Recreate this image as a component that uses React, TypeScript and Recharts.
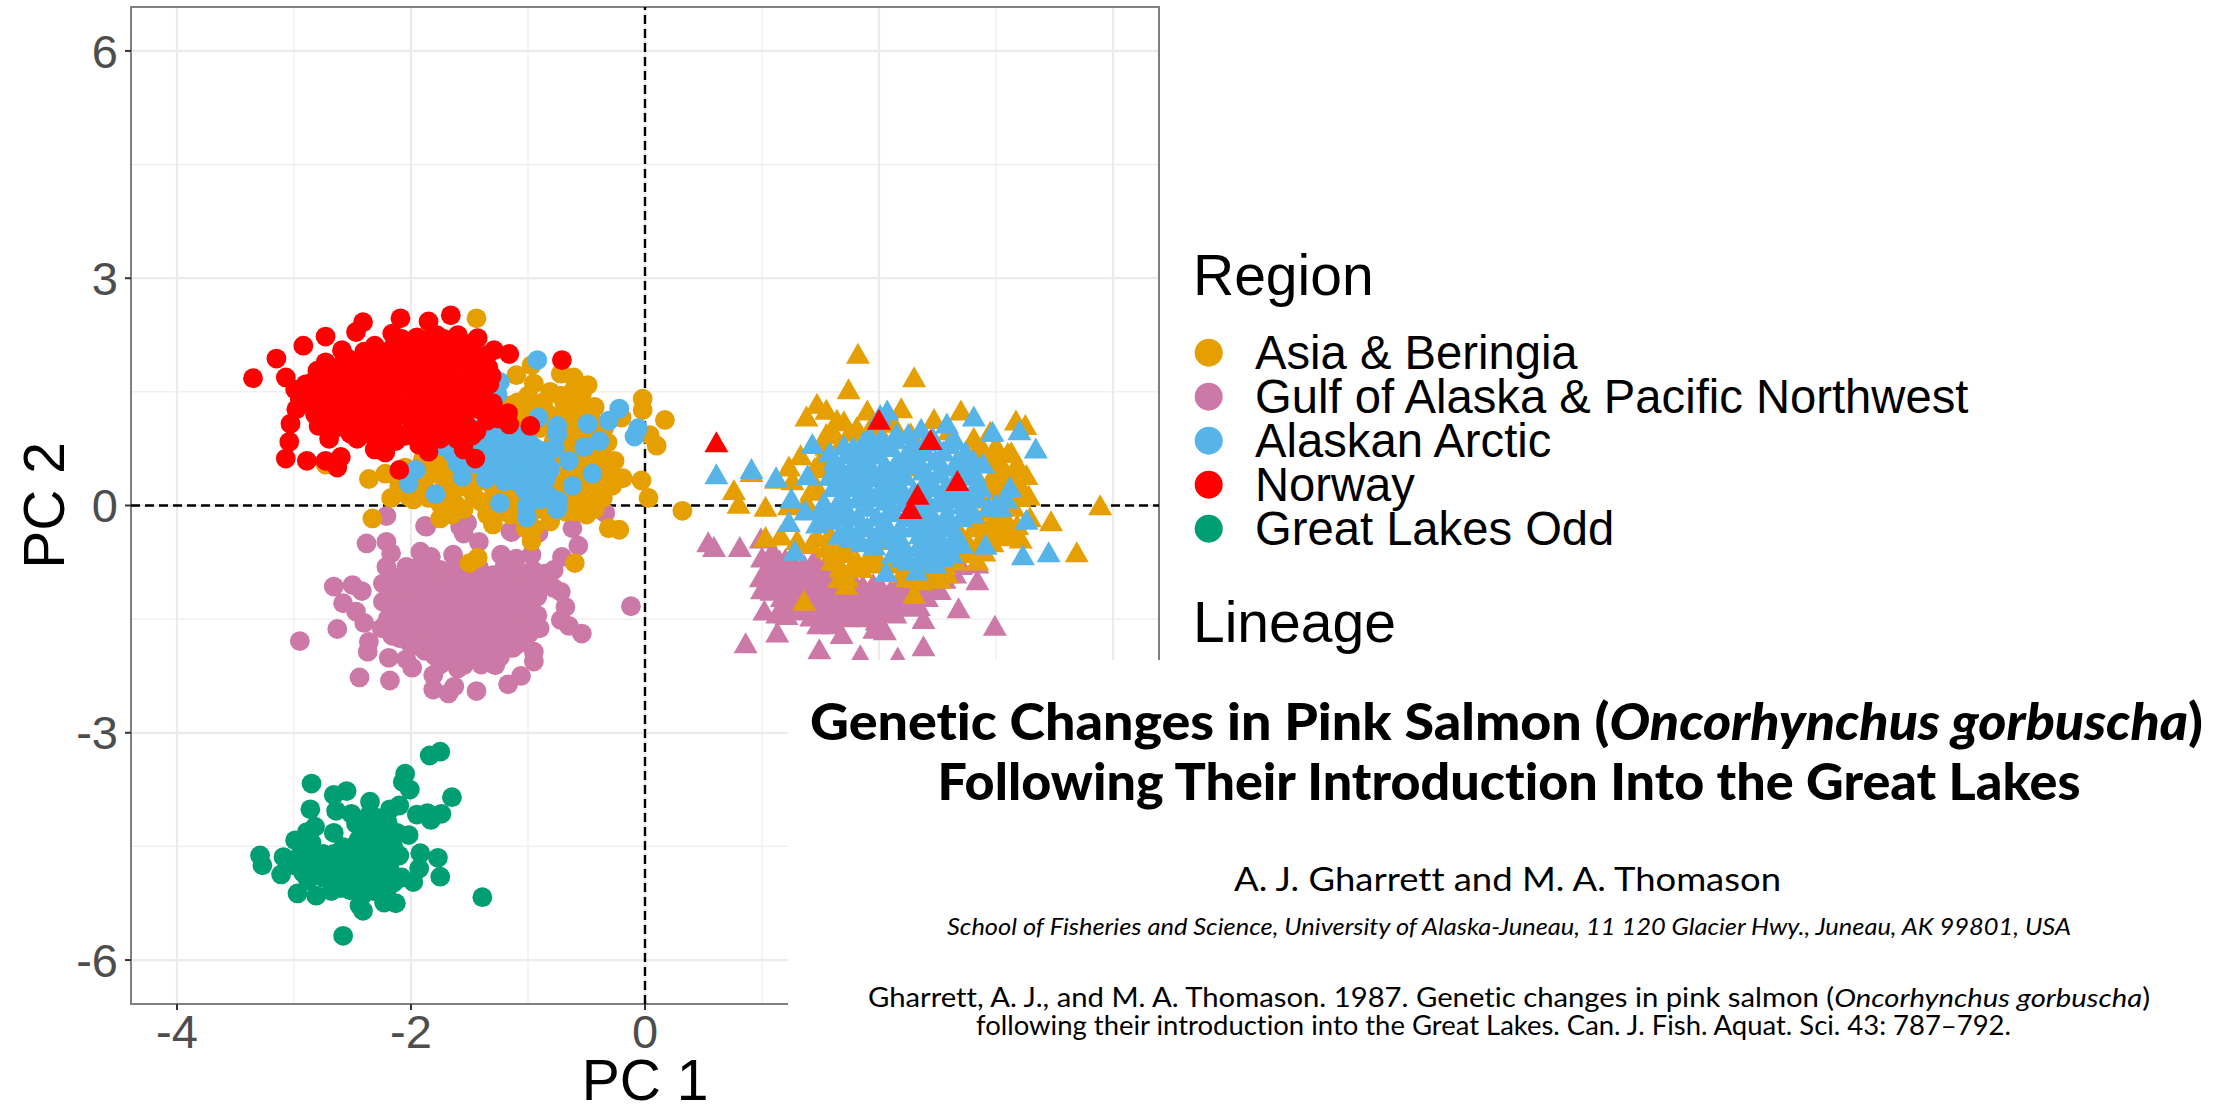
import React from "react";
import {
  ScatterChart,
  Scatter,
  XAxis,
  YAxis,
  CartesianGrid,
  ReferenceLine,
  ReferenceArea,
} from "recharts";

type P = [number, number];

const COLORS = {
  asia: "#E69F00",
  gulf: "#CC79A7",
  arctic: "#56B4E9",
  norway: "#FF0000",
  lakes: "#009E73",
};

const regionNames = [
  "Asia & Beringia",
  "Gulf of Alaska & Pacific Northwest",
  "Alaskan Arctic",
  "Norway",
  "Great Lakes Odd",
];
const regionColors = [COLORS.asia, COLORS.gulf, COLORS.arctic, COLORS.norway, COLORS.lakes];

const xTicks = [-4, -2, 0, 2, 4];
const yTicks = [-6, -3, 0, 3, 6];
const xMinor = [-3, -1, 1, 3];
const yMinor = [-4.5, -1.5, 1.5, 4.5];
const xLimit = 4.393;
const yLimit = 6.58;

const gulfCircles: P[] = [
  [-2.95,-1.79],[-2.63,-1.63],[-2.66,-1.07],[-2.5,-1.05],[-2.42,-1.13],[-2.58,-1.29],[-2.47,-1.4],[-2.4,-1.55],
  [-2.36,-1.8],[-2.37,-1.93],[-2.25,-1.62],[-2.44,-2.27],[-2.18,-2.31],[-2.19,-2.01],[-2.04,-2.03],[-1.99,-2.14],
  [-1.81,-2.24],[-1.81,-2.43],[-1.68,-2.48],[-1.63,-2.39],[-1.44,-2.45],[-1.17,-2.36],[-1.06,-2.25],[-0.95,-2.06],
  [-0.95,-1.93],[-0.99,-1.69],[-0.54,-1.69],[-0.65,-1.59],[-0.72,-1.51],[-0.68,-1.34],[-0.72,-1.14],[-0.78,-1.09],
  [-0.78,-0.85],[-0.71,-0.68],[-0.57,-0.53],[-0.62,-0.3],[-0.12,-1.33],[-2.38,-0.5],[-2.21,-0.48],[-2.17,-0.63],
  [-2.21,-0.81],[-2.24,-1.03],[-2.24,-1.27],[-1.87,-0.28],[-1.55,-0.37],[-1.42,-0.48],[-1.58,-0.28],[-1.14,-0.35],
  [-1.92,-0.61],[-1.83,-0.68],[-1.64,-0.65],[-1.23,-0.65],[-1.1,-0.7],[-0.97,-0.65],[-2.04,-0.81],[-0.95,-1.03],
  [-1.55,-2.11],[-1.45,-2.02],[-1.28,-2.11],[-1.24,-2.0],[-1.08,-1.82],[-2.21,-0.14],[-1.88,-0.27],[-1.52,-0.23],
  [-1.15,-0.34],[-0.34,-0.1],[-0.91,-0.36],
  [-2.15,-1.15],[-2.12,-1.42],[-2.1,-0.95],[-2.08,-1.62],[-2.05,-1.22],[-2.02,-1.8],[-2.0,-1.02],[-1.98,-1.45],
  [-1.95,-0.82],[-1.92,-1.7],[-1.9,-1.25],[-1.88,-1.92],[-1.85,-0.98],[-1.82,-1.5],[-1.8,-1.12],[-1.78,-1.78],
  [-1.75,-0.85],[-1.72,-1.32],[-1.7,-2.02],[-1.68,-1.02],[-1.65,-1.62],[-1.62,-1.2],[-1.6,-1.88],[-1.58,-0.88],
  [-1.55,-1.45],[-1.52,-1.05],[-1.5,-1.72],[-1.48,-1.25],[-1.45,-1.9],[-1.42,-0.82],[-1.4,-1.52],[-1.38,-1.08],
  [-1.35,-1.78],[-1.32,-1.3],[-1.3,-0.92],[-1.28,-1.6],[-1.25,-1.15],[-1.22,-1.9],[-1.2,-0.8],[-1.18,-1.42],
  [-1.15,-1.02],[-1.12,-1.68],[-1.1,-1.22],[-1.05,-0.9],[-1.03,-1.5],[-1.0,-1.12],[-0.98,-1.3],[-0.96,-0.85],
  [-0.92,-1.45],[-0.9,-1.62],[-0.88,-1.02],[-2.2,-1.5],[-2.16,-1.72],[-1.96,-1.12],[-1.76,-1.55],[-1.56,-1.65],
  [-1.36,-1.4],[-1.16,-1.55],[-1.66,-1.42],[-1.86,-1.62],[-1.46,-1.12],
];
const gulfCirclesCore: P[] = [
  [-2.14,-1.05],[-2.13,-1.25],[-2.12,-1.56],[-2.05,-0.9],[-2.07,-1.1],[-2.03,-1.35],[-2.0,-1.55],[-2.03,-1.7],[-1.96,-0.93],
  [-1.95,-1.3],[-1.93,-1.55],[-1.97,-1.85],[-1.87,-0.85],[-1.88,-1.1],[-1.86,-1.38],[-1.85,-1.77],[-1.8,-0.9],[-1.78,-1.22],
  [-1.78,-1.42],[-1.75,-1.68],[-1.8,-1.98],[-1.7,-0.93],[-1.72,-1.12],[-1.7,-1.5],[-1.7,-1.82],[-1.63,-0.8],[-1.62,-1.02],
  [-1.63,-1.33],[-1.6,-1.52],[-1.6,-1.75],[-1.58,-1.98],[-1.55,-0.95],[-1.55,-1.13],[-1.53,-1.33],[-1.52,-1.55],[-1.5,-1.85],
  [-1.47,-0.9],[-1.45,-1.02],[-1.43,-1.4],[-1.43,-1.62],[-1.42,-1.78],[-1.37,-0.95],[-1.38,-1.22],[-1.34,-1.55],[-1.33,-1.9],
  [-1.3,-1.12],[-1.27,-1.4],[-1.24,-1.72],[-1.22,-1.02],[-1.2,-1.28],[-1.18,-1.62],[-1.15,-0.88],[-1.12,-1.12],[-1.1,-1.38],
  [-1.06,-1.72],[-1.06,-1.05],[-1.03,-1.28],[-1.0,-0.95],[-0.98,-1.48],[-0.92,-1.2],[-0.86,-0.9],[-1.13,-1.88],[-2.18,-1.35],
  [-2.1,-1.75],[-1.4,-2.1],[-1.6,-2.15],[-1.75,-2.1],
];

const asiaCircles: P[] = [
  [-1.44,2.47],[-0.02,1.41],[-0.02,1.26],[0.17,1.13],[0.04,0.93],[0.1,0.79],[-0.03,0.33],[0.03,0.1],[0.32,-0.07],
  [-0.19,0.36],[-0.28,0.26],[-0.43,-0.05],[-0.31,-0.3],[-0.22,-0.32],[-0.6,-0.76],[-0.81,-0.21],[-0.97,-0.47],
  [-1.3,-0.25],[-1.75,-0.17],[-1.43,-0.69],[-1.5,-0.76],[-2.33,-0.17],[-2.36,0.35],[-2.17,0.1],[-1.98,0.08],
  [-2.73,0.54],[-1.1,1.72],[-0.97,1.85],[-0.81,1.5],[-0.95,1.61],[-0.72,1.74],[-0.61,1.69],[-0.49,1.59],[-0.54,1.47],
  [-0.43,1.3],[-0.2,1.16],[-0.32,0.83],[-0.26,0.59],[-0.39,0.35],[-0.57,1.32],[-0.69,1.36],[-0.87,1.36],[-1.0,1.45],
  [-1.09,1.36],
  [-2.22,0.42],[-2.1,0.25],[-2.05,0.5],[-1.95,0.3],[-1.9,0.6],[-1.85,0.1],[-1.8,0.42],[-1.72,0.22],[-1.7,0.62],
  [-1.62,0.02],[-1.6,0.4],[-1.55,-0.05],[-1.5,0.22],[-1.45,0.5],[-1.4,0.05],[-1.35,-0.12],[-1.3,0.25],[-1.22,-0.05],
  [-1.2,0.18],[-1.12,0.05],[-1.05,-0.15],[-1.0,0.15],[-0.92,-0.05],[-0.85,0.15],[-0.78,0.3],[-0.7,0.02],[-0.65,0.42],
  [-0.58,0.1],[-0.55,0.55],[-0.48,0.22],[-0.42,0.68],[-0.36,0.1],[-0.5,0.85],[-0.55,1.05],[-0.45,1.1],[-0.35,1.02],
  [-0.62,0.95],[-0.7,1.15],[-0.8,1.02],[-0.88,1.18],[-0.98,1.15],[-1.05,1.05],[-1.15,1.18],[-1.25,1.05],[-1.08,0.82],
  [-0.85,0.7],[-0.7,0.68],[-1.55,1.12],[-1.45,1.35],[-1.35,1.8],[-0.62,0.7],[-0.5,0.3],
];
const asiaCirclesCore: P[] = [
  [-2.12,0.38],[-2.02,0.12],[-1.92,0.45],[-1.88,0.22],[-1.78,0.6],[-1.75,0.02],[-1.68,0.42],[-1.66,0.12],[-1.58,0.25],[-1.55,0.55],
  [-1.46,0.12],[-1.42,0.32],[-1.38,0.55],[-1.32,-0.02],[-1.28,0.15],[-1.25,0.4],[-1.15,-0.12],[-1.12,0.28],[-1.08,-0.05],[-0.95,0.02],
  [-0.9,0.32],[-0.82,0.02],[-0.78,0.58],[-0.72,0.18],[-0.68,-0.08],[-0.62,0.12],[-0.58,0.32],[-0.52,0.02],[-0.46,0.45],[-0.42,0.12],
  [-0.6,-0.08],[-0.5,-0.12],[-0.52,0.62],[-0.35,0.55],[-0.45,0.9],[-0.38,0.72],[-0.6,1.15],[-0.5,1.2],[-0.65,1.05],[-0.72,0.88],
  [-0.82,1.2],[-0.9,1.02],[-0.78,0.85],[-0.95,1.3],[-1.05,1.25],[-1.15,1.32],[-1.22,1.22],[-0.72,1.45],[-0.62,1.5],[-0.68,1.25],
  [-1.75,0.82],[-1.62,0.72],[-1.02,-0.3],[-0.95,-0.3],[-1.28,-0.12],[-1.65,-0.12],[-1.7,-0.08],[-1.38,0.72],[-1.4,1.55],[-1.3,1.55],
  [-0.55,0.15],[-0.3,0.42],[-0.35,0.25],[-1.0,0.28],
];

const arcticCircles: P[] = [
  [-0.92,1.92],[-0.22,1.28],[-0.31,1.12],[-0.06,1.02],[-0.09,0.91],[-0.49,1.08],[-0.75,1.05],[-0.75,0.94],[-0.91,1.16],
  [-1.26,1.47],[-1.24,1.63],[-1.38,2.0],[-0.39,0.85],[-0.52,0.77],[-0.77,0.76],[-0.65,0.59],[-0.95,0.77],[-0.45,0.42],
  [-0.62,0.26],[-0.81,0.48],[-0.89,0.46],[-1.03,0.48],[-1.18,0.46],[-1.2,0.32],[-1.36,0.35],[-1.56,0.38],[-1.03,0.21],
  [-1.24,0.03],[-1.79,0.15],[-2.02,0.29],[-1.96,0.47],[-0.89,0.08],[-0.74,0.06],[-0.75,-0.05],[-1.01,-0.16],[-1.01,-0.01],
  [-1.15,0.79],[-1.3,0.79],[-1.46,1.01],[-1.33,0.65],[-1.65,0.7],[-1.06,0.92],[-1.21,1.05],[-0.94,0.61],[-1.09,0.65],
  [-1.88,0.88],[-1.4,0.85],[-1.22,0.88],[-1.12,0.95],[-1.5,0.7],[-1.2,0.62],[-1.3,1.2],
];
const arcticCirclesCore: P[] = [
  [-1.58,0.92],[-1.52,0.85],[-1.42,0.98],[-1.38,0.72],[-1.32,0.92],[-1.28,1.05],[-1.25,0.72],[-1.2,0.95],[-1.16,1.05],[-1.12,0.78],
  [-1.05,0.75],[-1.0,0.85],[-1.0,0.65],[-0.88,0.72],[-0.85,0.6],[-1.12,0.52],[-1.05,0.38],[-0.98,0.35],[-0.9,0.25],[-0.85,0.35],
  [-1.28,0.48],[-1.35,0.52],[-1.44,0.55],[-1.6,0.55],[-1.72,0.78],[-1.1,0.32],[-0.95,0.12],[-0.82,0.12],
];

const norwayCircles: P[] = [
  [-3.35,1.68],[-3.15,1.94],[-2.92,2.11],[-2.73,2.23],[-2.47,2.29],[-2.41,2.42],[-2.09,2.47],[-1.85,2.43],[-1.66,2.51],
  [-1.43,2.21],[-1.29,2.05],[-1.16,2.0],[-0.71,1.92],[-1.31,1.71],[-1.17,1.22],[-1.16,1.07],[-0.98,1.05],[-1.48,0.92],
  [-1.45,0.62],[-1.85,0.71],[-2.1,0.47],[-2.22,0.7],[-2.63,0.5],[-2.6,0.64],[-2.73,0.59],[-2.89,0.59],[-3.07,0.62],
  [-3.04,0.84],[-3.03,1.08],[-2.98,1.27],[-2.99,1.53],[-3.07,1.69],[-2.8,1.78],[-2.73,1.89],[-2.59,2.05],[-2.4,2.03],
  [-2.31,2.11],[-2.16,2.27],[-2.79,1.05],[-2.7,0.88],[-2.46,0.88],[-2.31,0.74],[-1.61,0.88],[-1.55,0.74],[-1.43,1.27],
  [-1.3,1.23],
  [-2.9,1.6],[-2.85,1.35],[-2.8,1.5],[-2.75,1.2],[-2.7,1.7],[-2.65,1.02],[-2.62,1.5],[-2.6,1.85],[-2.55,1.3],[-2.52,0.95],
  [-2.5,1.65],[-2.48,1.15],[-2.45,1.9],[-2.42,1.42],[-2.38,1.72],[-2.35,1.05],[-2.32,1.95],[-2.3,1.28],[-2.28,0.88],
  [-2.25,1.55],[-2.22,1.82],[-2.2,1.12],[-2.18,2.05],[-2.15,1.4],[-2.13,0.85],[-2.1,1.7],[-2.08,2.2],[-2.06,1.2],[-2.03,1.95],
  [-2.0,1.0],[-1.98,1.52],[-1.95,2.22],[-1.93,0.8],[-1.9,1.82],[-1.88,1.3],[-1.85,2.05],[-1.82,1.05],[-1.8,1.6],[-1.78,2.25],
  [-1.75,0.88],[-1.72,1.4],[-1.7,1.85],[-1.68,1.15],[-1.65,2.08],[-1.62,1.62],[-1.6,2.25],[-1.58,1.28],[-1.55,1.88],[-1.52,1.05],
  [-1.5,1.5],[-1.48,2.05],[-1.45,1.72],[-1.42,1.35],[-1.4,1.95],[-1.38,1.55],[-1.35,1.12],[-1.34,1.82],[-2.95,1.4],[-2.65,1.32],
];
const norwayCirclesCore: P[] = [
  [-2.88,1.48],[-2.85,1.62],[-2.82,1.2],[-2.75,1.38],[-2.72,1.58],[-2.68,1.18],[-2.66,1.75],[-2.6,1.2],[-2.58,1.42],[-2.55,1.62],
  [-2.55,1.95],[-2.5,1.05],[-2.5,1.45],[-2.48,1.78],[-2.44,1.0],[-2.42,1.58],[-2.4,1.28],[-2.38,1.88],[-2.35,1.5],[-2.33,0.92],
  [-2.32,1.15],[-2.3,1.62],[-2.28,1.82],[-2.26,1.38],[-2.24,2.0],[-2.22,0.95],[-2.2,1.28],[-2.18,1.68],[-2.15,1.02],[-2.14,1.88],
  [-2.12,1.5],[-2.1,2.08],[-2.08,1.32],[-2.05,0.92],[-2.04,1.6],[-2.02,1.8],[-2.0,1.2],[-1.98,2.05],[-1.96,1.38],[-1.95,0.92],
  [-1.94,1.68],[-1.92,1.1],[-1.9,1.95],[-1.88,2.18],[-1.87,1.52],[-1.85,0.88],[-1.84,1.2],[-1.82,1.78],[-1.8,1.38],[-1.78,2.02],
  [-1.76,1.05],[-1.74,1.6],[-1.72,2.2],[-1.72,1.22],[-1.68,1.75],[-1.67,0.95],[-1.66,1.45],[-1.62,1.92],[-1.62,1.2],[-1.6,1.42],
  [-1.58,2.05],[-1.56,1.65],[-1.54,1.1],[-1.52,1.82],[-1.5,1.28],[-1.47,2.15],[-1.46,1.58],[-1.44,0.98],[-1.42,1.82],[-1.38,1.68],
  [-1.38,1.38],[-1.35,1.98],[-1.33,1.6],[-1.3,1.35],[-1.25,1.15],[-1.6,0.98],
];

const lakesCircles: P[] = [
  [-1.75,-3.25],[-1.84,-3.3],[-2.05,-3.54],[-2.07,-3.65],[-2.01,-3.75],[-1.65,-3.85],[-2.85,-3.67],[-2.66,-3.82],[-2.55,-3.77],
  [-2.86,-4.01],[-2.64,-4.03],[-2.35,-3.91],[-2.1,-3.96],[-2.18,-4.01],[-2.51,-4.07],[-2.35,-4.07],[-1.95,-4.08],[-1.86,-4.06],
  [-1.83,-4.15],[-1.74,-4.07],[-2.82,-4.24],[-2.89,-4.31],[-2.66,-4.32],[-2.99,-4.42],[-2.02,-4.35],[-2.2,-4.18],[-2.47,-4.2],
  [-2.15,-4.51],[-3.29,-4.62],[-3.27,-4.75],[-3.09,-4.64],[-3.11,-4.87],[-2.98,-4.76],[-1.92,-4.59],[-1.77,-4.65],[-1.93,-4.79],
  [-1.75,-4.9],[-1.98,-4.97],[-2.08,-4.91],[-1.39,-5.17],[-2.97,-5.12],[-2.81,-5.15],[-2.68,-5.09],[-2.52,-5.08],[-2.44,-5.28],
  [-2.41,-5.35],[-2.23,-5.24],[-2.13,-5.25],[-2.58,-5.68],[-2.21,-5.09],[-2.32,-5.09],[-2.88,-4.95],[-2.75,-4.91],[-2.92,-4.56],
  [-2.75,-4.6],[-2.58,-4.51],[-2.5,-4.51],[-2.4,-4.47],[-2.3,-4.29],[-2.35,-4.29],[-2.24,-4.47],[-2.3,-4.69],[-2.44,-4.65],
  [-2.61,-4.73],[-2.78,-4.73],[-2.87,-4.82],[-2.67,-4.87],[-2.5,-4.91],[-2.35,-4.91],[-2.24,-4.91],[-2.38,-5.04],[-2.41,-5.13],
];
const lakesCirclesCore: P[] = [
  [-2.95,-4.62],[-2.85,-4.45],[-2.82,-4.65],[-2.7,-4.72],[-2.66,-4.6],[-2.55,-4.62],[-2.55,-4.82],[-2.45,-4.42],[-2.42,-4.8],[-2.38,-4.56],
  [-2.35,-4.75],[-2.3,-4.48],[-2.28,-4.85],[-2.22,-4.3],[-2.2,-4.62],[-2.18,-4.8],[-2.1,-4.62],[-2.12,-4.32],[-2.15,-4.98],[-2.4,-4.15],
  [-2.58,-4.98],[-2.45,-5.0],[-2.3,-5.0],[-2.8,-4.85],[-2.92,-4.85],[-2.6,-5.05],[-2.38,-4.3],[-2.3,-4.12],
];

const gulfTriangles: P[] = [
  [0.54,-0.48],[0.59,-0.54],[0.81,-0.54],[0.99,-0.43],[1.09,-0.59],[0.99,-0.94],[1.02,-1.38],[1.13,-1.42],[1.21,-1.44],
  [1.17,-1.2],[1.13,-1.67],[0.86,-1.81],[1.49,-1.89],[1.68,-1.69],[1.48,-1.56],[1.84,-1.97],[2.16,-2.0],[2.38,-1.85],
  [2.05,-1.64],[2.38,-1.49],[2.68,-1.35],[2.99,-1.58],[2.84,-0.98],[2.65,-0.89],[2.84,-0.76],[2.41,-1.2],[1.53,0.82],
  [2.47,0.87],[1.24,-0.89],[1.38,-0.89],[1.53,-0.81],[1.67,-1.16],[1.81,-1.11],[1.95,-1.03],[2.1,-1.11],[2.24,-1.33],
  [1.38,-1.11],[1.53,-1.2],[1.67,-1.33],[1.81,-1.33],[1.95,-1.33],[2.1,-1.33],[1.56,-1.42],[1.73,-1.47],[1.9,-1.47],
  [1.98,-1.51],[1.1,-0.98],[1.3,-1.03],[1.19,-1.07],[1.44,-0.98],[2.18,-1.2],[2.35,-1.03],[2.52,-1.11],[1.2,-0.7],
  [1.45,-0.7],[1.3,-1.25],[1.42,-1.3],[2.0,-1.2],[1.62,-0.98],[1.78,-0.98],
];
const gulfTrianglesCore: P[] = [
  [1.06,-0.78],[1.14,-0.85],[1.22,-0.98],[1.28,-0.76],[1.34,-0.98],[1.42,-0.78],[1.47,-1.03],[1.5,-0.92],[1.58,-0.9],[1.6,-1.1],
  [1.7,-1.03],[1.74,-1.22],[1.86,-1.05],[1.88,-1.22],[2.02,-1.08],[2.04,-1.28],[2.16,-1.06],[2.14,-1.42],[2.26,-1.12],[2.3,-1.02],
  [1.6,-1.28],[1.48,-1.42],[1.62,-1.45],[1.8,-1.42],[2.0,-1.4],[1.08,-1.12],[1.4,-1.2],[2.44,-0.95],[2.56,-0.96],[2.7,-0.78],
  [1.0,-0.68],[1.05,-0.92],[1.0,-1.1],[1.12,-1.02],[1.15,-0.72],[1.24,-0.78],[1.26,-1.16],[1.22,-1.3],[1.36,-0.78],[1.33,-1.38],
  [1.46,-1.12],[1.52,-1.02],[1.55,-1.32],[1.66,-1.24],[1.72,-1.34],[1.76,-1.12],[1.84,-1.24],[1.92,-1.16],[2.06,-1.18],[2.12,-1.22],
  [2.2,-1.3],[2.28,-1.22],[2.34,-1.32],[2.42,-1.08],[2.5,-0.88],[1.6,-1.56],[1.96,-1.62],[1.42,-1.46],
];

const asiaTriangles: P[] = [
  [1.82,2.01],[2.3,1.7],[1.74,1.54],[1.47,1.35],[1.55,1.27],[1.38,1.18],[1.64,1.14],[1.9,1.26],[2.19,1.29],[2.47,1.15],
  [2.7,1.26],[3.17,1.13],[3.25,1.07],[3.13,0.71],[3.26,0.41],[3.28,0.14],[3.89,0.01],[3.47,-0.2],[3.69,-0.61],[3.21,-0.43],
  [3.29,-0.15],[2.97,-0.48],[2.84,-0.72],[2.52,-0.96],[2.3,-1.16],[1.36,-1.25],[1.73,-0.94],[1.67,-0.81],[1.03,-0.41],
  [1.16,-0.39],[0.8,0.03],[1.03,-0.01],[0.76,0.21],[0.91,0.45],[1.12,0.36],[1.33,0.67],[1.23,0.52],[1.26,0.34],[1.23,0.01],
  [2.95,0.98],[2.81,0.9],[3.06,0.52],[3.18,0.56],[2.87,0.3],[2.95,0.21],[3.15,-0.01],[3.07,-0.28],[2.81,-0.28],[2.7,-0.37],
  [1.47,-0.41],[1.67,-0.54],[2.01,-0.45],[2.41,-0.72],[2.58,-0.89],[2.24,-0.94],[1.81,-0.72],[1.64,-0.72],[2.1,-0.76],
  [2.27,0.96],[1.81,1.04],[1.67,0.82],[1.56,0.52],[1.47,0.25],[2.81,0.69],[2.67,0.6],[2.24,0.52],[1.78,0.38],[1.58,-0.37],
  [1.7,-0.94],[1.74,-0.62],[2.6,-0.55],[3.0,-0.1],[3.05,0.1],[2.95,0.6],[3.1,0.4],[2.6,1.0],[2.0,1.0],[1.55,0.95],
];
const asiaTrianglesCore: P[] = [
  [2.85,-0.18],[2.9,-0.35],[2.95,-0.25],[2.75,-0.45],[2.85,-0.5],[2.78,-0.6],[2.65,-0.72],[2.5,-0.8],[2.4,-0.88],[2.3,-0.95],
  [2.95,0.35],[3.0,0.45],[3.12,0.2],[3.2,0.3],[3.2,0.12],[3.08,-0.15],[3.18,-0.25],[3.1,0.7],[3.0,0.8],[2.88,0.78],
  [1.45,0.5],[1.42,0.2],[1.38,0.05],[1.5,0.6],[1.55,0.8],[1.6,1.0],[1.75,0.98],[1.7,1.12],[1.95,1.1],[2.12,1.1],
  [1.95,-0.6],[1.85,-0.82],[1.95,-0.76],[2.15,-0.62],[1.55,-0.55],[1.42,-0.5],[1.3,-0.45],[1.6,-0.6],[2.25,-0.75],[2.65,-0.55],
  [1.6,-0.72],[1.66,-0.95],[1.76,-0.82],[1.72,-1.04],[1.9,-0.7],[2.0,-0.72],[2.2,-0.88],[2.36,-0.98],[2.46,-0.88],[2.56,-0.78],
  [2.74,-0.62],[2.9,-0.6],[3.02,-0.38],[3.12,-0.4],[3.05,0.28],[3.1,0.0],[3.18,0.42],[3.0,0.65],[2.88,0.1],[2.92,-0.05],
];

const arcticTriangles: P[] = [
  [0.61,0.42],[0.91,0.49],[1.12,0.38],[1.39,0.41],[1.43,0.82],[1.58,0.71],[2.01,1.2],[2.07,1.26],[2.15,0.96],[1.87,0.85],
  [2.36,1.02],[2.58,1.09],[2.65,0.87],[2.81,1.18],[2.97,0.98],[3.2,1.0],[3.34,0.76],[2.81,0.6],[2.89,0.56],[2.65,0.56],
  [3.12,0.25],[3.09,0.1],[2.94,-0.01],[3.26,-0.18],[2.91,-0.51],[3.23,-0.65],[3.45,-0.61],[2.71,-0.5],[2.54,-0.67],
  [2.32,-0.85],[2.06,-0.87],[2.21,-0.59],[1.85,-0.48],[1.28,-0.59],[1.23,-0.21],[1.47,-0.23],[1.37,-0.06],[1.25,0.1],
  [1.53,0.05],[1.67,0.52],[1.73,0.69],[1.81,0.69],[1.95,0.74],[1.61,0.25],[1.78,0.25],[1.95,0.38],[2.13,0.38],[2.24,0.69],
  [2.38,0.47],[2.52,0.43],[2.47,0.25],[2.7,0.25],[2.87,0.25],[1.73,-0.06],[1.9,-0.01],[2.07,0.07],[2.24,-0.15],[2.41,-0.06],
  [2.58,-0.1],[1.73,-0.28],[1.9,-0.28],[2.35,-0.37],[2.52,-0.41],[2.15,-0.45],[2.33,-0.54],[3.04,-0.01],[2.05,0.55],[1.85,0.5],
  [2.3,0.2],[2.55,0.05],[2.15,0.15],[1.65,0.05],[2.05,-0.2],[2.4,0.72],[2.02,0.9],
];
const arcticTrianglesCore: P[] = [
  [1.64,0.4],[1.7,0.12],[1.74,0.42],[1.68,-0.14],[1.8,0.58],[1.82,0.1],[1.88,0.72],[1.88,0.22],[1.82,-0.14],[1.92,0.55],
  [1.98,0.15],[1.98,-0.14],[2.0,0.68],[2.02,0.42],[2.02,-0.32],[2.1,0.78],[2.1,0.25],[2.12,-0.05],[2.16,0.6],[2.18,-0.28],
  [2.22,0.4],[2.22,0.05],[2.28,0.82],[2.3,-0.02],[2.3,-0.28],[2.34,0.6],[2.38,0.28],[2.4,-0.22],[2.42,0.06],[2.44,-0.5],
  [2.48,0.6],[2.48,-0.18],[2.5,0.05],[2.55,0.72],[2.58,0.28],[2.6,-0.28],[2.62,-0.5],[2.64,0.1],[2.68,0.42],[2.7,-0.15],
  [2.74,0.72],[2.76,0.1],[2.78,-0.02],[2.44,-0.7],[2.25,-0.72],[2.12,-0.62],[2.4,0.85],[2.25,0.95],[2.75,0.4],[2.82,0.42],
  [1.8,-0.4],[1.95,-0.42],[1.7,0.8],[1.58,0.4],[1.5,-0.05],
  [1.62,0.6],[1.68,0.3],[1.62,-0.08],[1.56,-0.18],[1.66,-0.38],[1.76,0.5],[1.78,0.78],[1.76,-0.42],[1.84,0.36],[1.86,-0.26],
  [1.92,0.92],[1.94,0.12],[1.96,-0.52],[2.04,0.3],[2.06,0.8],[2.08,-0.08],[2.1,-0.42],[2.12,0.5],[2.14,0.88],[2.2,0.22],
  [2.2,-0.48],[2.26,0.55],[2.28,-0.12],[2.3,0.72],[2.36,0.12],[2.38,-0.62],[2.42,0.4],[2.46,0.9],[2.46,-0.32],[2.5,-0.58],
  [2.54,0.52],[2.56,-0.18],[2.6,0.82],[2.62,0.18],[2.66,-0.36],[2.72,0.55],[2.72,0.02],[2.8,0.2],[2.8,-0.1],[2.48,-0.76],
  [2.62,-0.62],[2.34,-0.72],[2.2,-0.68],[2.84,0.12],[3.0,0.02],
];

const norwayTriangles: P[] = [
  [0.61,0.84],[2.0,1.14],[2.44,0.87],[2.67,0.33],[2.33,0.15],[2.27,-0.04],
];

const toRows = (pts: P[]) => pts.map(([x, y]) => ({ x, y }));

const SANS = "'Liberation Sans', Arial, sans-serif";
const PAPER = "Lato, 'Open Sans', sans-serif";

const Dot = (color: string) => (props: any) => (
  <circle cx={props.cx} cy={props.cy} r={9.9} fill={color} />
);
const Tri = (color: string) => (props: any) => (
  <path
    d={`M${props.cx} ${props.cy - 10.5}L${props.cx + 12} ${props.cy + 10.5}L${props.cx - 12} ${props.cy + 10.5}Z`}
    fill={color}
  />
);

const seriesOrder: [string, P[], string, boolean][] = [
  ["Gulf circles", [...gulfCircles, ...gulfCirclesCore], COLORS.gulf, false],
  ["Gulf triangles", [...gulfTriangles, ...gulfTrianglesCore], COLORS.gulf, true],
  ["Asia circles", [...asiaCircles, ...asiaCirclesCore], COLORS.asia, false],
  ["Asia triangles", [...asiaTriangles, ...asiaTrianglesCore], COLORS.asia, true],
  ["Arctic circles", [...arcticCircles, ...arcticCirclesCore], COLORS.arctic, false],
  ["Arctic triangles", [...arcticTriangles, ...arcticTrianglesCore], COLORS.arctic, true],
  ["Norway circles", [...norwayCircles, ...norwayCirclesCore], COLORS.norway, false],
  ["Norway triangles", norwayTriangles, COLORS.norway, true],
  ["Lakes circles", [...lakesCircles, ...lakesCirclesCore], COLORS.lakes, false],
];

const paperText: React.CSSProperties = { fontVariantLigatures: "none" };

export default function App() {
  return (
    <div style={{ position: "absolute", left: 0, top: 0, width: 2233, height: 1107, overflow: "hidden", background: "#fff" }}>
      <ScatterChart
        width={2233}
        height={1107}
        margin={{ top: 7, right: 1074, bottom: 0, left: 0 }}
      >
        <CartesianGrid
          stroke="#ededed"
          strokeWidth={1.2}
          horizontalValues={yMinor}
          verticalValues={xMinor}
        />
        <CartesianGrid
          stroke="#ebebeb"
          strokeWidth={2.2}
          horizontalValues={yTicks}
          verticalValues={xTicks}
        />
        <XAxis
          type="number"
          dataKey="x"
          domain={[-xLimit, xLimit]}
          ticks={xTicks}
          height={103}
          interval={0}
          tickSize={6}
          tickMargin={5}
          axisLine={false}
          tickLine={{ stroke: "#333333", strokeWidth: 2 }}
          tick={{ fontSize: 47, fill: "#4d4d4d", fontFamily: SANS }}
          label={{ value: "PC 1", position: "insideBottom", offset: 7, fontSize: 57, fill: "#000", fontFamily: SANS }}
        />
        <YAxis
          type="number"
          dataKey="y"
          domain={[-yLimit, yLimit]}
          ticks={yTicks}
          width={131}
          interval={0}
          tickSize={6}
          tickMargin={7}
          axisLine={false}
          tickLine={{ stroke: "#333333", strokeWidth: 2 }}
          tick={{ fontSize: 47, fill: "#4d4d4d", fontFamily: SANS }}
          label={{ value: "PC 2", angle: -90, position: "insideLeft", offset: 44, textAnchor: "middle", fontSize: 57, fill: "#000", fontFamily: SANS }}
        />
        {seriesOrder.map(([name, pts, color, tri]) => (
          <Scatter
            key={name}
            name={name}
            data={toRows(pts)}
            isAnimationActive={false}
            shape={tri ? Tri(color) : Dot(color)}
          />
        ))}
        <ReferenceLine x={0} stroke="#000" strokeWidth={2.4} strokeDasharray="9 5" />
        <ReferenceLine y={0} stroke="#000" strokeWidth={2.4} strokeDasharray="9 5" />
        <ReferenceArea x1={-xLimit} x2={xLimit} y1={-yLimit} y2={yLimit} fill="none" stroke="#7f7f7f" strokeWidth={2} />
      </ScatterChart>

      <svg width={2233} height={1107} style={{ position: "absolute", left: 0, top: 0 }}>
        <g fontFamily={SANS} fill="#000">
          <text x={1193} y={295} fontSize={57}>Region</text>
          {regionNames.map((name, i) => (
            <g key={name}>
              <circle cx={1208.7} cy={352.7 + i * 44} r={14} fill={regionColors[i]} />
              <text x={1255} y={368.5 + i * 44} fontSize={47.2}>{name}</text>
            </g>
          ))}
          <text x={1193} y={641.7} fontSize={57}>Lineage</text>
        </g>
        <rect x={788} y={660} width={1445} height={447} fill="#fff" />
        <g fontFamily={PAPER} fill="#000" style={paperText}>
          <text x={810} y={740} fontSize={52} fontWeight={900} textLength={1393} lengthAdjust="spacingAndGlyphs">
            Genetic Changes in Pink Salmon (<tspan fontStyle="italic">Oncorhynchus gorbuscha</tspan>)
          </text>
          <text x={937.5} y={800} fontSize={52} fontWeight={900} textLength={1143} lengthAdjust="spacingAndGlyphs">
            Following Their Introduction Into the Great Lakes
          </text>
          <text x={1234} y={891} fontSize={33} textLength={547} lengthAdjust="spacingAndGlyphs">
            A. J. Gharrett and M. A. Thomason
          </text>
          <text x={947} y={935} fontSize={23} fontStyle="italic" textLength={1124} lengthAdjust="spacingAndGlyphs">
            School of Fisheries and Science, University of Alaska-Juneau, 11 120 Glacier Hwy., Juneau, AK 99801, USA
          </text>
          <text x={868} y={1007} fontSize={26} textLength={1282} lengthAdjust="spacingAndGlyphs">
            Gharrett, A. J., and M. A. Thomason. 1987. Genetic changes in pink salmon (<tspan fontStyle="italic">Oncorhynchus gorbuscha</tspan>)
          </text>
          <text x={976} y={1035} fontSize={26} textLength={1035} lengthAdjust="spacingAndGlyphs">
            following their introduction into the Great Lakes. Can. J. Fish. Aquat. Sci. 43: 787–792.
          </text>
        </g>
      </svg>
    </div>
  );
}
